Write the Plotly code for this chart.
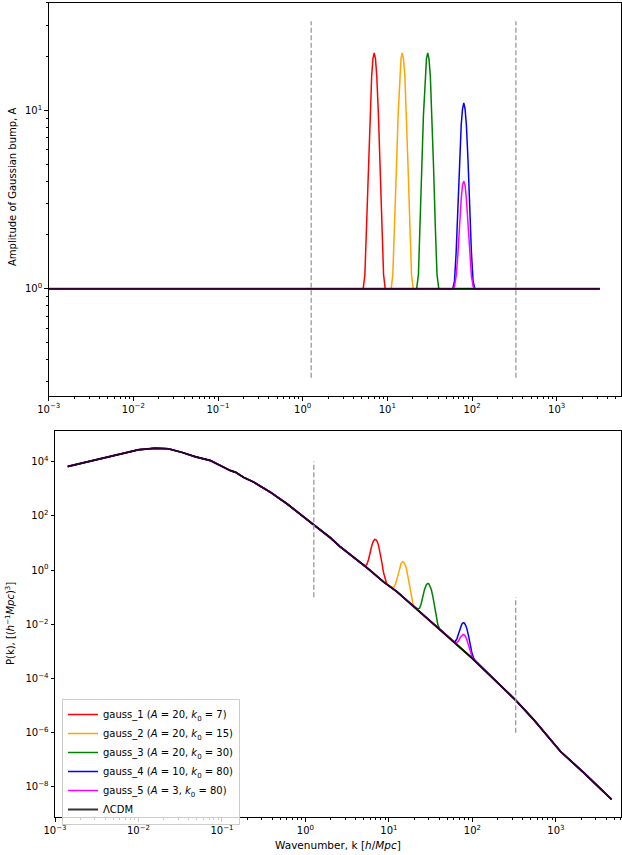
import plotly.graph_objects as go

W, H = 622, 855

# ---- data --------------------------------------------------------------
# LCDM power spectrum (lower panel)
k_lcdm = [1.42e-3, 2.5e-3, 4.0e-3, 6.3e-3, 0.010, 0.0158, 0.0229, 0.0331, 0.0479,
          0.0724, 0.100, 0.126, 0.145, 0.182, 0.240, 0.380, 0.603, 0.95, 1.28,
          1.98, 2.57, 5.61, 8.65, 12.5, 18.9, 24.5, 37.8, 65.6, 99.1, 217, 328,
          543, 1135, 2163, 4645]
p_lcdm = [6550, 1.0e4, 1.45e4, 2.04e4, 2.75e4, 3.09e4, 2.95e4, 2.19e4, 1.51e4,
          1.10e4, 6600, 4680, 4070, 2630, 1740, 741, 275, 89, 44.7,
          15.7, 7.5, 1.135, 0.363, 0.158, 0.0513, 0.0263, 7.76e-3, 1.74e-3, 5.62e-4, 5.50e-5, 1.62e-5,
          3.02e-6, 2.04e-7, 3.31e-8, 3.47e-9]

# k range of the flat A = 1 line (upper panel)
k_flat = [1e-3, 3240]

# wavenumbers sampled across each bump
k_g1 = [5.19, 5.43, 5.69, 5.96, 6.24, 6.53, 6.76, 7.0, 7.24, 7.50, 7.85, 8.22, 8.61, 9.02, 9.44]
k_g2 = [11.1, 11.6, 12.2, 12.8, 13.4, 14.0, 14.5, 15.0, 15.5, 16.1, 16.8, 17.6, 18.5, 19.3, 20.2]
k_g3 = [22.2, 23.3, 24.4, 25.5, 26.7, 28.0, 29.0, 30.0, 31.0, 32.2, 33.7, 35.2, 36.9, 38.6, 40.5]
k_g4 = [59.3, 62.1, 65.0, 68.1, 71.3, 74.6, 77.3, 80.0, 82.8, 85.8, 89.8, 94.0, 98.4, 103, 108]
k_g5 = [59.3, 62.1, 65.0, 68.1, 71.3, 74.6, 77.3, 80.0, 82.8, 85.8, 89.8, 94.0, 98.4, 103, 108]

# bump amplitude (upper panel)
amp_g1 = [1.0, 1.2, 2.2, 4.7, 9.4, 15.6, 19.5, 21.0, 19.5, 15.6, 9.4, 4.7, 2.2, 1.2, 1.0]
amp_g2 = [1.0, 1.2, 2.2, 4.7, 9.4, 15.6, 19.5, 21.0, 19.5, 15.6, 9.4, 4.7, 2.2, 1.2, 1.0]
amp_g3 = [1.0, 1.2, 2.2, 4.7, 9.4, 15.6, 19.5, 21.0, 19.5, 15.6, 9.4, 4.7, 2.2, 1.2, 1.0]
amp_g4 = [1.0, 1.1, 1.6, 2.8, 5.2, 8.3, 10.2, 11.0, 10.2, 8.3, 5.2, 2.8, 1.6, 1.1, 1.0]
amp_g5 = [1.0, 1.03, 1.18, 1.55, 2.3, 3.2, 3.8, 4.0, 3.8, 3.2, 2.3, 1.55, 1.18, 1.03, 1.0]

# bumped power spectrum (lower panel)
p_g1 = [1.40, 1.60, 2.40, 4.55, 8.06, 11.9, 13.5, 13.3, 11.3, 8.24, 4.40, 1.95, 0.807, 0.424, 0.300]
p_g2 = [0.223, 0.242, 0.360, 0.679, 1.20, 1.76, 2.00, 1.96, 1.66, 1.21, 0.641, 0.283, 0.117, 0.0610, 0.0438]
p_g3 = [0.0366, 0.0394, 0.0586, 0.110, 0.193, 0.282, 0.319, 0.312, 0.263, 0.191, 0.101, 0.0444, 0.0182, 0.00946, 0.00676]
p_g4 = [2.36e-3, 2.32e-3, 2.85e-3, 4.40e-3, 7.19e-3, 1.01e-2, 1.13e-2, 1.11e-2, 9.38e-3, 6.93e-3,
        3.83e-3, 1.82e-3, 9.14e-4, 5.80e-4, 4.58e-4]
p_g5 = [2.31e-3, 2.12e-3, 2.10e-3, 2.43e-3, 3.18e-3, 3.90e-3, 4.22e-3, 4.04e-3, 3.49e-3, 2.67e-3,
        1.69e-3, 1.00e-3, 6.74e-4, 5.30e-4, 4.49e-4]

labels = [
    "gauss_1 (<i>A</i> = 20, <i>k</i><sub>0</sub> = 7)",
    "gauss_2 (<i>A</i> = 20, <i>k</i><sub>0</sub> = 15)",
    "gauss_3 (<i>A</i> = 20, <i>k</i><sub>0</sub> = 30)",
    "gauss_4 (<i>A</i> = 10, <i>k</i><sub>0</sub> = 80)",
    "gauss_5 (<i>A</i> = 3, <i>k</i><sub>0</sub> = 80)",
]
colors = ["red", "orange", "green", "blue", "magenta"]

# scale cut lines
cut_k = [1.26, 330]
cut_top_y = [0.316, 31.6]
cut_bot_y1 = [0.1, 1e4]
cut_bot_y2 = [1e-6, 0.1]

# ---- figure ---------------------------------------------------------------
FONT = "DejaVu Sans"
fig = go.Figure()

bumps = [(k_g1, amp_g1, p_g1), (k_g2, amp_g2, p_g2), (k_g3, amp_g3, p_g3),
         (k_g4, amp_g4, p_g4), (k_g5, amp_g5, p_g5)]

for (kb, ab, pb), name, col in zip(bumps, labels, colors):
    # upper panel: flat A=1 with the bump
    fig.add_trace(go.Scatter(
        x=[k_flat[0]] + kb + [k_flat[1]], y=[1] + ab + [1],
        mode="lines", line=dict(color=col, width=1.5),
        showlegend=False, xaxis="x", yaxis="y",
    ))

for (kb, ab, pb), name, col in zip(bumps, labels, colors):
    lo = [(k, p) for k, p in zip(k_lcdm, p_lcdm) if k < kb[0]]
    hi = [(k, p) for k, p in zip(k_lcdm, p_lcdm) if k > kb[-1]]
    xs = [k for k, _ in lo] + kb + [k for k, _ in hi]
    ys = [p for _, p in lo] + pb + [p for _, p in hi]
    fig.add_trace(go.Scatter(
        x=xs, y=ys, mode="lines", name=name,
        line=dict(color=col, width=1.5),
        xaxis="x2", yaxis="y2",
    ))

black = "rgba(0,0,0,0.8)"
fig.add_trace(go.Scatter(x=k_flat, y=[1, 1], mode="lines", line=dict(color=black, width=2),
                         showlegend=False, xaxis="x", yaxis="y"))
fig.add_trace(go.Scatter(x=k_lcdm, y=p_lcdm, mode="lines", name="ΛCDM",
                         line=dict(color=black, width=2), xaxis="x2", yaxis="y2"))

dash = dict(color="#999999", width=1.3, dash="5px,2.5px")
for k in cut_k:
    fig.add_trace(go.Scatter(x=[k, k], y=cut_top_y, mode="lines", line=dash,
                             showlegend=False, xaxis="x", yaxis="y"))
fig.add_trace(go.Scatter(x=[cut_k[0]] * 2, y=cut_bot_y1, mode="lines", line=dash,
                         showlegend=False, xaxis="x2", yaxis="y2"))
fig.add_trace(go.Scatter(x=[cut_k[1]] * 2, y=cut_bot_y2, mode="lines", line=dash,
                         showlegend=False, xaxis="x2", yaxis="y2"))


def sup(e):
    return "10<sup>%s</sup>" % str(e).replace("-", "\u2212")


def px(x):
    return x / W


def py(y):
    return 1 - y / H


minor_x = [m * 10 ** e for e in range(-3, 4) for m in range(2, 10)]
minor_ytop = [m * 10 ** e for e in range(-1, 2) for m in range(2, 10)]

axis_common = dict(
    type="log", showgrid=False, zeroline=False, showline=True, linecolor="black",
    linewidth=1, mirror=True, ticks="outside", ticklen=3.5, tickcolor="black",
    automargin=False,
    tickfont=dict(family=FONT, size=10, color="black"),
)
minor = dict(ticks="outside", ticklen=2, tickcolor="black", tickvals=minor_x, showgrid=False)

fig.update_layout(
    width=W, height=H, autosize=False,
    margin=dict(l=0, r=0, t=0, b=0),
    paper_bgcolor="white", plot_bgcolor="white",
    font=dict(family=FONT, size=10, color="black"),
    xaxis=dict(axis_common, domain=[px(48.7), px(621)], range=[-3, 3.76], anchor="y",
               tickvals=[10 ** e for e in range(-3, 4)],
               ticktext=[sup(e) for e in range(-3, 4)], minor=minor),
    yaxis=dict(axis_common, domain=[py(396), py(3)], range=[-0.602, 1.602], anchor="x",
               tickvals=[1, 10], ticktext=[sup(0), sup(1)],
               minor=dict(minor, tickvals=minor_ytop)),
    xaxis2=dict(axis_common, domain=[px(55), px(621)], range=[-3, 3.78], anchor="y2",
                tickvals=[10 ** e for e in range(-3, 4)],
                ticktext=[sup(e) for e in range(-3, 4)], minor=minor),
    yaxis2=dict(axis_common, domain=[py(817.3), py(430.7)], range=[-9.12, 5.14], anchor="x2",
                tickvals=[10.0 ** e for e in range(-8, 5, 2)],
                ticktext=[sup(e) for e in range(-8, 5, 2)]),
    legend=dict(x=px(62), y=py(699), xanchor="left", yanchor="top",
                bgcolor="rgba(255,255,255,0.8)", bordercolor="#cccccc", borderwidth=1,
                font=dict(family=FONT, size=10, color="black"),
                tracegroupgap=0, itemwidth=30),
    annotations=[
        dict(text="Amplitude of Gaussian bump, A", x=px(13), y=py(187), xref="paper",
             yref="paper", xanchor="center", yanchor="middle", textangle=-90,
             showarrow=False, font=dict(size=10)),
        dict(text="P(k), [(<i>h</i><sup>\u22121</sup><i>Mpc</i>)<sup>3</sup>]", x=px(10),
             y=py(624), xref="paper", yref="paper", xanchor="center", yanchor="middle",
             textangle=-90, showarrow=False, font=dict(size=10)),
        dict(text="Wavenumber, k [<i>h</i>/<i>Mpc</i>]", x=px(338), y=py(845), xref="paper",
             yref="paper", xanchor="center", yanchor="middle", showarrow=False,
             font=dict(size=10.5)),
    ],
)

# page margin off so the 622x855 figure fills the window exactly
post = ("document.body.style.margin='0';document.body.style.overflow='hidden';"
        "var gd=document.getElementById('{plot_id}');"
        "Plotly.relayout(gd,{width:%d,height:%d});" % (W, H))
fig.write_html("out.html", config={"responsive": False, "displayModeBar": False},
               post_script=post)
